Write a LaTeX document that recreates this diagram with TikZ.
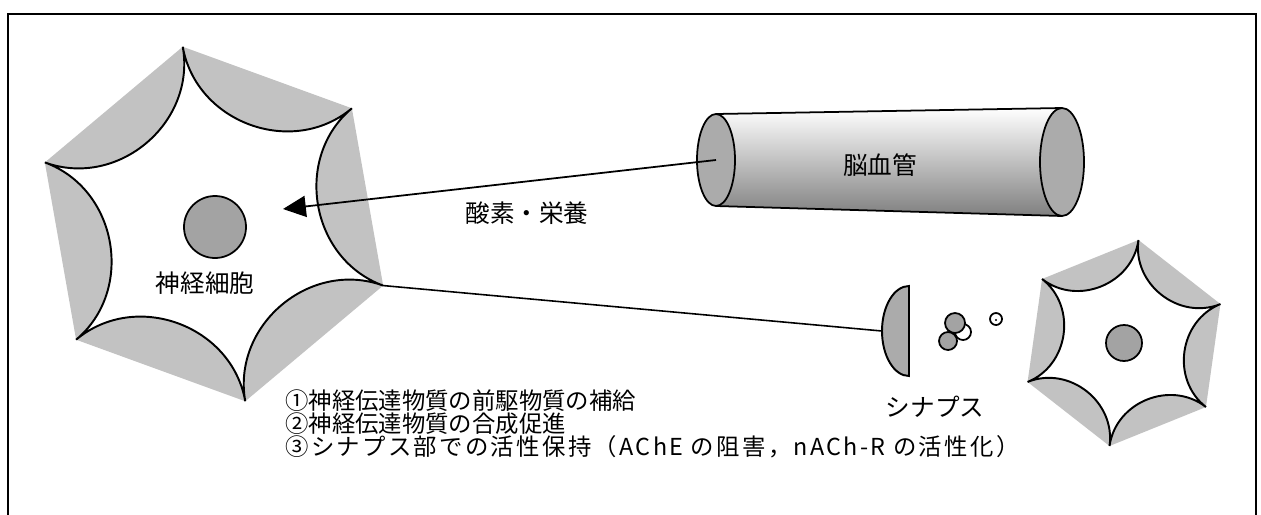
\documentclass[tikz,border=0pt]{standalone}
\usepackage{fontspec}
\setmainfont{Noto Sans CJK JP}
\newfontfamily\widejp[LetterSpace=10]{Noto Sans CJK JP}
\usepackage{tikz}
\usetikzlibrary{arrows.meta}
\usetikzlibrary{positioning}

\tikzset{
  frame/.style={line width=1.6pt},
  lune/.style={fill=black!24},
  wall/.style={draw, line width=1.1pt, fill=white, line join=miter},
  concave/.style={bend right=60, looseness=1.1},
  nucleus/.style={draw, line width=1pt, fill=black!36},
  endface/.style={draw, line width=1pt, fill=black!33},
  txt/.style={inner sep=0pt, font=\fontsize{14}{14}\selectfont},
  item/.style={inner sep=0pt, anchor=west, font=\fontsize{13.3}{13.3}\selectfont},
}
% six-tipped cell: name, centre, tip radius, angle of first tip
\newcommand{\cell}[4]{
  \begin{scope}[shift={(#2)}]
    \foreach \k in {0,...,5} {\coordinate (#1-\k) at (#4+60*\k:#3);}
  \end{scope}
  \fill[lune] (#1-0) -- (#1-1) -- (#1-2) -- (#1-3) -- (#1-4) -- (#1-5) -- cycle;
  \draw[wall] (#1-0) to[concave] (#1-1) to[concave] (#1-2) to[concave] (#1-3)
    to[concave] (#1-4) to[concave] (#1-5) to[concave] (#1-0) -- cycle;
}

\begin{document}
\begin{tikzpicture}[x=0.02cm, y=-0.02cm]
  \useasboundingbox (0,0) rectangle (1261,514);
  \draw[frame] (8,520) -- (8,14) -- (1256,14) -- (1256,520);

  % neurons
  \cell{big}{214,224}{180}{-100}
  \draw[nucleus] (215,227) circle[radius=31];
  \node[txt] (bigname) at (205,283) {神経細胞};

  \cell{small}{1124,343}{104}{-22}
  \draw[nucleus] (1124,343) circle[radius=18];

  % blood vessel
  \coordinate (vL) at (716,160);
  \coordinate (vR) at (1062,162);
  \shade[top color=white, middle color=white, bottom color=black!50]
    (716,114) -- (1062,108) -- (1062,216) -- (716,206) -- cycle;
  \draw[line width=1pt] (716,114) -- (1062,108);
  \draw[line width=1pt] (716,206) -- (1062,216);
  \draw[endface] (vR) ellipse[x radius=22, y radius=54];
  \draw[endface] (vL) ellipse[x radius=19, y radius=46];
  \node[txt] (vessel) at (880,165) {脳血管};

  \coordinate (feed) at (283,209);
  \draw[line width=1pt, -{Triangle[length=13pt, width=12pt]}] (vL) -- (feed);
  \node[txt] (supply) at (527,213) {酸素・栄養};

  % synapse
  \coordinate (syn) at (882,331);
  \draw[line width=0.9pt] (big-2) -- (syn);
  \draw[endface, line width=1.1pt] (909,286) arc[start angle=-90, end angle=-270, x radius=27, y radius=45] -- cycle;
  \draw[line width=1pt, fill=white] (963,332) circle[radius=8];
  \draw[nucleus] (955,323) circle[radius=10];
  \draw[nucleus] (948,341) circle[radius=9];
  \draw[line width=1pt, fill=white] (996,319) circle[radius=6];
  \fill (996,320) circle[radius=1.2];
  \node[txt] (synname) at (935,407) {シナプス};

  \node[item] (effect1) at (285,401) {①神経伝達物質の前駆物質の補給};
  \node[item] (effect2) at (285,424) {②神経伝達物質の合成促進};
  \node[item] (effect3) at (285,447) {\widejp ③シナプス部での活性保持（AChE の阻害，nACh-R の活性化）};
\end{tikzpicture}
\end{document}
